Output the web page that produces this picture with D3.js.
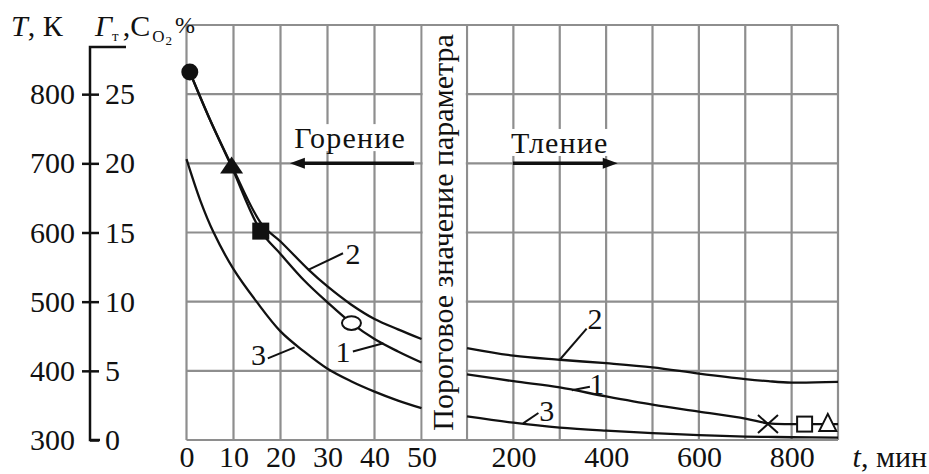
<!DOCTYPE html>
<html>
<head>
<meta charset="utf-8">
<script src="https://cdn.jsdelivr.net/npm/d3@7"></script>
<style>
  body { margin: 0; background: #fff; }
  svg { display: block; }
  svg text { font-family: 'Liberation Serif', 'Times New Roman', 'DejaVu Serif', serif; }
</style>
</head>
<body>
<svg id="chart" width="929" height="474"></svg>
<script>
// --- data ---
// burning stage, t in minutes, T in K
const burnTicks = [0, 10, 20, 30, 40, 50];
const burnT1 = [0.7, 5, 9.6, 15.8, 20, 25, 30, 35.1, 40, 45, 50];
const burnK1 = [832, 763, 695, 602, 569, 531, 499, 469, 446, 428, 412];
const burnT2 = [0.7, 5, 9.6, 16, 20, 26, 30, 35, 40, 45, 50];
const burnK2 = [832, 763, 697, 612, 587, 546, 522, 496, 475, 460, 446];
const burnT3 = [0, 3, 5.7, 10, 14.9, 20, 25, 30, 35, 40, 45, 50];
const burnK3 = [706, 645, 601, 547, 500, 457, 428, 403, 385, 370, 357, 346];

// smouldering stage
const smoulderGrid = [100, 200, 300, 400, 500, 600, 700, 800, 900];
const smoulderTicks = [200, 400, 600, 800];
const smoulderT = [100, 200, 300, 400, 500, 600, 700, 750, 800, 900];
const smoulderK1 = [395, 385, 376, 363, 351, 341, 331, 324, 323, 323];
const smoulderK2 = [433, 422, 416, 411, 405, 396, 388, 385, 383, 384];
const smoulderK3 = [334, 325, 318, 313.5, 310, 307, 305, 304.5, 304, 303.5];

// markers on curve 1
const burnMarkT = [0.7, 9.6, 15.8, 35.1];
const burnMarkK = [832, 695, 602, 469];
const burnMarkShape = ["dot", "triangle", "square", "ring"];
const smoulderMarkT = [749, 828, 878];
const smoulderMarkK = [323, 323, 323];
const smoulderMarkShape = ["cross", "openSquare", "openTriangle"];

// axis ticks
const tempTicks = [300, 400, 500, 600, 700, 800];
const tempGrid = [300, 400, 500, 600, 700, 800, 900];
const gasTicks = [0, 5, 10, 15, 20, 25];

// curve number labels: [text, label t, label K, leader from t, from K, to t, to K]
const burnLabels = [
  ["2", 35.4, 570, 33.3, 570, 25.9, 546],
  ["1", 33.3, 428, 35.4, 428, 41.9, 440],
  ["3", 15.3, 423, 17.3, 418, 23, 434]
];
const smoulderLabels = [
  ["2", 376, 476, 358, 461, 300, 416],
  ["1", 380, 382, 365, 377, 326, 372],
  ["3", 272, 343, 254, 339, 221, 324]
];

const serif = "'Liberation Serif', 'Times New Roman', 'DejaVu Serif', serif";
const svg = d3.select("#chart").attr("font-family", serif);
const fontSize = 30;

const xL = d3.scaleLinear().domain([0, 50]).range([186.5, 421.5]);
const xR = d3.scaleLinear().domain([100, 900]).range([467, 838]);
const y = d3.scaleLinear().domain([300, 900]).range([440, 25]);
const yG = d3.scaleLinear().domain([0, 30]).range([440, 25]);

const gridColor = "#8e8e8e";
const ink = "#111";

// grid
const grid = svg.append("g").attr("stroke", gridColor).attr("stroke-width", 2.2);
grid.selectAll("line.h").data(tempGrid).join("line")
  .attr("class", "h")
  .attr("x1", xL(0)).attr("x2", xR(900))
  .attr("y1", d => y(d)).attr("y2", d => y(d));
grid.selectAll("line.vl").data(burnTicks).join("line")
  .attr("class", "vl")
  .attr("x1", d => xL(d)).attr("x2", d => xL(d))
  .attr("y1", y(900)).attr("y2", y(300));
grid.selectAll("line.vr").data(smoulderGrid).join("line")
  .attr("class", "vr")
  .attr("x1", d => xR(d)).attr("x2", d => xR(d))
  .attr("y1", y(900)).attr("y2", y(300));

// threshold band between the two time scales
svg.append("rect")
  .attr("x", xL(50) + 1.2).attr("width", xR(100) - xL(50) - 2.4)
  .attr("y", y(900) + 1.2).attr("height", y(300) - y(900) - 2.4)
  .attr("fill", "#fff");
svg.append("text")
  .attr("transform", `translate(${(xL(50) + xR(100)) / 2 + 9},${(y(900) + y(300)) / 2}) rotate(-90)`)
  .attr("text-anchor", "middle")
  .attr("font-size", fontSize)
  .attr("fill", ink)
  .text("Пороговое значение параметра");

// curves
const line = d3.line().curve(d3.curveCatmullRom.alpha(0.5));
const curves = [
  [burnT1, burnK1, xL], [burnT2, burnK2, xL], [burnT3, burnK3, xL],
  [smoulderT, smoulderK1, xR], [smoulderT, smoulderK2, xR], [smoulderT, smoulderK3, xR]
];
svg.append("g").selectAll("path").data(curves).join("path")
  .attr("d", ([ts, ks, sx]) => line(ts.map((t, i) => [sx(t), y(ks[i])])))
  .attr("fill", "none").attr("stroke", ink).attr("stroke-width", 2.3);

// curve labels with leaders
function drawLabels(labels, sx) {
  const g = svg.append("g");
  g.selectAll("line").data(labels).join("line")
    .attr("x1", d => sx(d[3])).attr("y1", d => y(d[4]))
    .attr("x2", d => sx(d[5])).attr("y2", d => y(d[6]))
    .attr("stroke", ink).attr("stroke-width", 2);
  g.selectAll("text").data(labels).join("text")
    .attr("x", d => sx(d[1])).attr("y", d => y(d[2]))
    .attr("text-anchor", "middle").attr("dominant-baseline", "central")
    .attr("font-size", fontSize).attr("fill", ink)
    .text(d => d[0]);
}
drawLabels(burnLabels, xL);
drawLabels(smoulderLabels, xR);

// markers
function tri(w, h) {
  return `M0,${-h * 0.6}L${w / 2},${h * 0.4}L${-w / 2},${h * 0.4}Z`;
}
function drawMarker(g, shape, cx, cy) {
  const m = g.append("g").attr("transform", `translate(${cx},${cy})`);
  if (shape === "dot") m.append("circle").attr("r", 8.5).attr("fill", ink);
  if (shape === "triangle") m.append("path").attr("d", tri(23, 17)).attr("fill", ink);
  if (shape === "square") m.append("rect").attr("x", -8.5).attr("y", -8.5).attr("width", 17).attr("height", 17).attr("fill", ink);
  if (shape === "ring") m.append("ellipse").attr("rx", 9.5).attr("ry", 6.8).attr("fill", "#fff").attr("stroke", ink).attr("stroke-width", 2);
  if (shape === "cross") m.append("path").attr("d", "M-10,-9L10,9M-10,9L10,-9").attr("stroke", ink).attr("stroke-width", 2);
  if (shape === "openSquare") m.append("rect").attr("x", -7.5).attr("y", -7.5).attr("width", 15).attr("height", 15).attr("fill", "#fff").attr("stroke", ink).attr("stroke-width", 2);
  if (shape === "openTriangle") m.append("path").attr("d", tri(17, 17)).attr("fill", "#fff").attr("stroke", ink).attr("stroke-width", 2);
}
const marks = svg.append("g");
burnMarkT.forEach((t, i) => drawMarker(marks, burnMarkShape[i], xL(t), y(burnMarkK[i])));
smoulderMarkT.forEach((t, i) => drawMarker(marks, smoulderMarkShape[i], xR(t), y(smoulderMarkK[i])));

// stage arrows with captions
function stageArrow(sx, t0, t1, k, caption, tText, kText) {
  const g = svg.append("g");
  const x0 = sx(t0), x1 = sx(t1), yy = y(k);
  const dir = Math.sign(x1 - x0);
  g.append("line").attr("x1", x0).attr("x2", x1 - dir * 10).attr("y1", yy).attr("y2", yy)
    .attr("stroke", ink).attr("stroke-width", 3.5);
  g.append("path")
    .attr("d", `M${x1},${yy}L${x1 - dir * 15},${yy - 5.5}L${x1 - dir * 15},${yy + 5.5}Z`)
    .attr("fill", ink);
  const txt = g.append("text").attr("x", sx(tText)).attr("y", y(kText))
    .attr("text-anchor", "middle")
    .attr("font-size", fontSize).attr("letter-spacing", 1.2).attr("fill", ink)
    .text(caption);
  const b = txt.node().getBBox();
  g.insert("rect", "text").attr("x", b.x - 2).attr("y", b.y + 3)
    .attr("width", b.width + 4).attr("height", b.height - 6).attr("fill", "#fff");
}
stageArrow(xL, 48.4, 22, 700, "Горение", 34.8, 722);
stageArrow(xR, 199, 425, 700, "Тление", 300, 715);

// left double axis
const axisX = 90;
const capTop = 47;
svg.append("path")
  .attr("d", `M126,${capTop}H${axisX}V${y(300)}H100`)
  .attr("fill", "none").attr("stroke", ink).attr("stroke-width", 2.5);

const aT = svg.append("g").attr("transform", `translate(${axisX},0)`)
  .call(d3.axisLeft(y).tickValues(tempTicks).tickSize(8).tickPadding(7));
aT.select(".domain").remove();
aT.selectAll(".tick").filter(d => d === 300).select("line").remove();

const aG = svg.append("g").attr("transform", `translate(${axisX},0)`)
  .call(d3.axisRight(yG).tickValues(gasTicks).tickSize(9).tickPadding(6));
aG.select(".domain").remove();

// bottom time axes
const aL = svg.append("g").attr("transform", `translate(0,${y(300)})`)
  .call(d3.axisBottom(xL).tickValues(burnTicks).tickSize(0).tickPadding(6));
const aR = svg.append("g").attr("transform", `translate(0,${y(300)})`)
  .call(d3.axisBottom(xR).tickValues(smoulderTicks).tickSize(0).tickPadding(6));
[aL, aR].forEach(a => a.select(".domain").remove());

[aT, aG, aL, aR].forEach(a => {
  a.attr("font-family", serif).attr("font-size", fontSize);
  a.selectAll(".tick line").attr("stroke", ink).attr("stroke-width", 2.5);
  a.selectAll(".tick text").attr("fill", ink);
});

// axis titles
const tTitle = svg.append("text").attr("x", 11).attr("y", 36)
  .attr("font-size", fontSize).attr("fill", ink);
tTitle.append("tspan").attr("font-style", "italic").text("T");
tTitle.append("tspan").text(", К");

const gTitle = svg.append("text").attr("x", 95).attr("y", 36)
  .attr("font-size", fontSize).attr("fill", ink);
gTitle.append("tspan").attr("font-style", "italic").text("Г");
gTitle.append("tspan").attr("font-size", 15).attr("dy", 5).text("т");
gTitle.append("tspan").attr("dy", -5).attr("dx", 4).text(",C");
gTitle.append("tspan").attr("font-size", 17).attr("dy", 6).attr("dx", 2).text("O");
gTitle.append("tspan").attr("font-size", 13).attr("dy", 3).attr("dx", 1).text("2");
gTitle.append("tspan").attr("font-size", 24).attr("dy", -12).attr("dx", 3).text("%");

const xTitle = svg.append("text").attr("x", 927).attr("y", 467)
  .attr("text-anchor", "end")
  .attr("font-size", fontSize).attr("fill", ink);
xTitle.append("tspan").attr("font-style", "italic").text("t");
xTitle.append("tspan").text(", мин");
</script>
</body>
</html>
